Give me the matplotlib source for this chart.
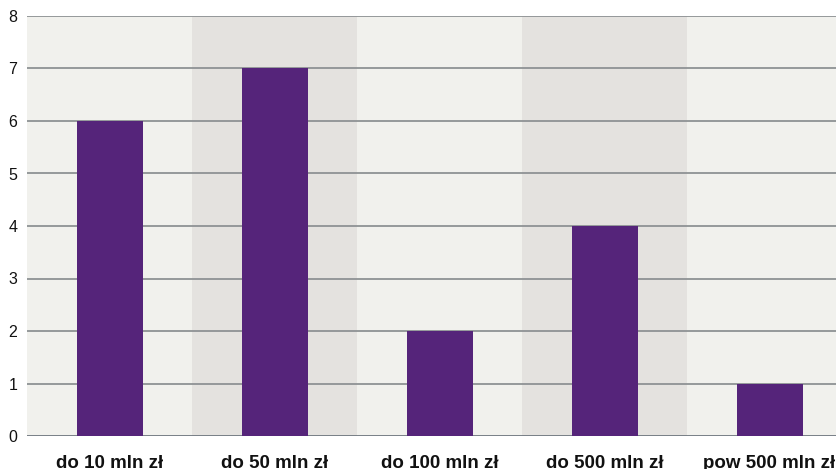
import matplotlib
matplotlib.use('Agg')
import matplotlib.pyplot as plt

categories = ['do 10 mln zł', 'do 50 mln zł', 'do 100 mln zł', 'do 500 mln zł', 'pow 500 mln zł']
values = [6, 7, 2, 4, 1]
y_ticks = [0, 1, 2, 3, 4, 5, 6, 7, 8]

plt.rcParams['font.family'] = ['Liberation Sans', 'DejaVu Sans']

W, H = 837, 469
fig = plt.figure(figsize=(W / 100, H / 100), dpi=100)
# plot area runs past the right edge of the figure
left, right, bottom, top = 27, 852, 436, 16
ax = fig.add_axes([left / W, (H - bottom) / H, (right - left) / W, (bottom - top) / H])

x = range(len(categories))
for i in x:
    ax.axvspan(i - 0.5, i + 0.5, color='#e4e2df' if i % 2 else '#f1f1ed', zorder=0, lw=0)

for yv in y_ticks:
    ax.axhline(yv, color='#6f777f' if yv == 0 else '#8e9294', lw=1.3, zorder=1)

ax.bar(x, values, width=0.4, color='#55247a', zorder=2)

ax.set_xlim(-0.5, len(categories) - 0.5)
ax.set_ylim(0, 8)
ax.set_yticks(y_ticks)
ax.set_xticks(list(x))
ax.set_xticklabels(categories, fontsize=13.5, fontweight='bold', color='#111111')
ax.tick_params(axis='x', length=0, pad=14)
ax.tick_params(axis='y', length=0, pad=7, labelsize=11.5, labelcolor='#111111')
for s in ax.spines.values():
    s.set_visible(False)

fig.savefig('out.png', dpi=100)
